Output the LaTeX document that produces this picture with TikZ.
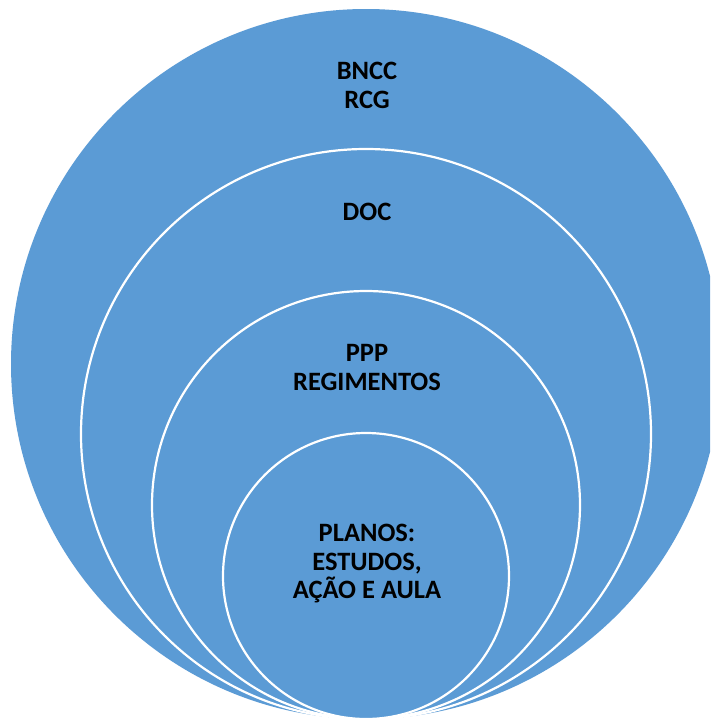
\documentclass[tikz,border=0pt]{standalone}
\usepackage{fontspec}
\setmainfont{Carlito}
\definecolor{ringblue}{HTML}{5B9BD5}
\tikzset{
  ring/.style={fill=ringblue, draw=white, line width=2.2pt},
  lbl/.style={font=\bfseries\fontsize{26.5}{28.5}\selectfont, align=center, text=black, inner sep=0pt}
}
\begin{document}
\begin{tikzpicture}[x=1pt,y=-1pt]
\useasboundingbox (0,0) rectangle (710,718);
\begin{scope}
\clip (0,0) rectangle (710,718);
\fill[white] (0,0) rectangle (710,718);
\path[ring, draw=none] (366,364) circle[radius=355];
\path[ring] (366,434) circle[radius=285];
\path[ring] (366,505) circle[radius=214];
\path[ring] (366,576) circle[radius=143];
\end{scope}
\node[lbl] (bncc) at (367,85.5) {BNCC\\RCG};
\node[lbl] (doc) at (367,212) {DOC};
\node[lbl] (ppp) at (367,367.5) {PPP\\REGIMENTOS};
\node[lbl] (planos) at (367,564) {PLANOS:\\ESTUDOS,\\AÇÃO E AULA};
\end{tikzpicture}
\end{document}
